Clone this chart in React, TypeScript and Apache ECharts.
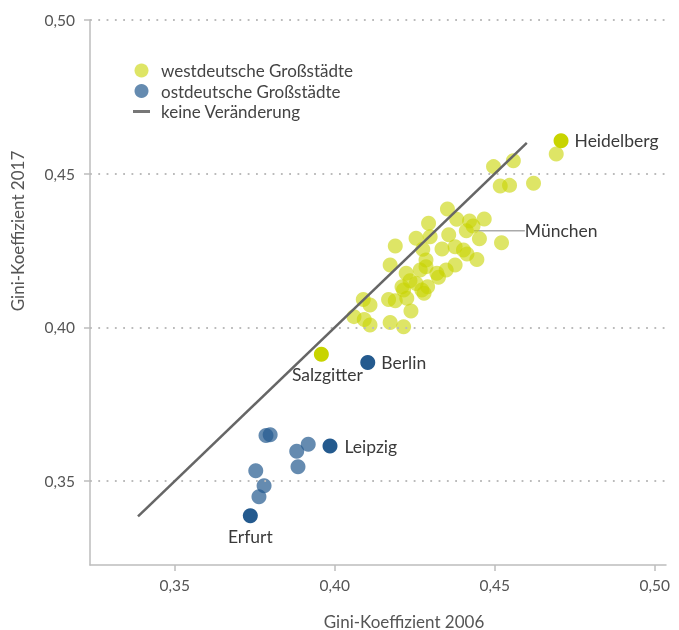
import React, { useEffect, useRef } from 'react';
import * as echarts from 'echarts';

// Gini-Koeffizient 2006 (x) und 2017 (y)
const westGini2006 = [
  0.4692, 0.4558, 0.4496, 0.4517, 0.4546, 0.4621, 0.4352, 0.4293, 0.4381, 0.4421,
  0.4432, 0.4467, 0.4189, 0.4254, 0.4298, 0.4356, 0.4452, 0.4521, 0.4335, 0.4376,
  0.4402, 0.4413, 0.4444, 0.4275, 0.4173, 0.4285, 0.4285, 0.4376, 0.4223, 0.4267,
  0.4319, 0.4324, 0.4348, 0.4235, 0.4254, 0.4210, 0.4215, 0.4272, 0.4290, 0.4279,
  0.4225, 0.4168, 0.4189, 0.4089, 0.4110, 0.4238, 0.4060, 0.4092, 0.4110, 0.4173,
  0.4215,
];
const westGini2017 = [
  0.4564, 0.4542, 0.4523, 0.4460, 0.4462, 0.4469, 0.4385, 0.4339, 0.4352, 0.4346,
  0.4330, 0.4353, 0.4265, 0.4290, 0.4295, 0.4301, 0.4288, 0.4275, 0.4255, 0.4262,
  0.4252, 0.4239, 0.4221, 0.4254, 0.4203, 0.4219, 0.4197, 0.4203, 0.4176, 0.4187,
  0.4176, 0.4163, 0.4187, 0.4152, 0.4143, 0.4132, 0.4122, 0.4122, 0.4132, 0.4111,
  0.4095, 0.4091, 0.4087, 0.4091, 0.4073, 0.4053, 0.4035, 0.4026, 0.4008, 0.4016,
  0.4002,
];
const eastGini2006 = [0.3785, 0.3798, 0.3881, 0.3917, 0.3885, 0.3753, 0.3779, 0.3763];
const eastGini2017 = [0.3648, 0.3651, 0.3597, 0.3620, 0.3547, 0.3534, 0.3485, 0.3449];

// beschriftete Städte
const labeledCities = ['Heidelberg', 'Salzgitter', 'München', 'Berlin', 'Leipzig', 'Erfurt'];
const labeledRegion = ['west', 'west', 'west', 'east', 'east', 'east'];
const labeledGini2006 = [0.4707, 0.3958, 0.4411, 0.4103, 0.3985, 0.3736];
const labeledGini2017 = [0.4607, 0.3913, 0.4314, 0.3886, 0.3614, 0.3387];

// Diagonale "keine Veränderung"
const diagonalRange = [0.3385, 0.46];

// Achsen
const tickValues = [0.35, 0.4, 0.45, 0.5];
const xExtent = [0.3235, 0.5035];
const yExtent = [0.3227, 0.5];

const WEST = 'westdeutsche Großstädte';
const EAST = 'ostdeutsche Großstädte';
const LINE = 'keine Veränderung';

const FONT = 'Lato';
const fmt = (v: number) => v.toFixed(2).replace('.', ',');

export default function App() {
  const ref = useRef<HTMLDivElement>(null);
  useEffect(() => {
    if (!ref.current) return;
    const chart = echarts.init(ref.current, undefined, { renderer: 'svg' });

    const westLight = 'rgba(200,212,0,0.6)';
    const eastLight = 'rgba(36,90,142,0.7)';
    const westDark = '#c8d400';
    const eastDark = '#245a8e';

    const labelPos: Record<string, any> = {
      Heidelberg: { position: 'right', distance: 6 },
      Salzgitter: { position: 'bottom', distance: 4, offset: [6, 0] },
      Berlin: { position: 'right', distance: 6 },
      Leipzig: { position: 'right', distance: 7 },
      Erfurt: { position: 'bottom', distance: 4 },
    };

    const highlighted = (region: string) =>
      labeledCities
        .map((name, i) => ({ name, i }))
        .filter((d) => labeledRegion[d.i] === region && d.name !== 'München')
        .map((d) => ({
          name: d.name,
          value: [labeledGini2006[d.i], labeledGini2017[d.i]],
          label: { show: true, formatter: '{b}', ...labelPos[d.name] },
        }));

    const mi = labeledCities.indexOf('München');

    const labelStyle = { fontFamily: FONT, fontSize: 17.5, color: '#3a3a3a' };

    const option: any = {
      animation: false,
      textStyle: { fontFamily: FONT },
      grid: { left: 90, right: 13, top: 20, bottom: 65 },
      legend: {
        orient: 'vertical',
        left: 133,
        top: 62,
        padding: 0,
        itemWidth: 17,
        itemHeight: 14,
        itemGap: 3.5,
        textStyle: { fontFamily: FONT, fontSize: 17, color: '#444', padding: [0, 0, 0, 6] },
        data: [
          { name: WEST },
          { name: EAST },
          { name: LINE, icon: 'path://M0,0 L17,0 L17,3 L0,3 Z', itemStyle: { color: '#777' } },
        ],
        selectedMode: false,
      },
      xAxis: {
        type: 'value',
        min: xExtent[0],
        max: xExtent[1],
        axisLine: { show: true, lineStyle: { color: '#bdbdbd', width: 1.5 } },
        axisTick: { show: true, length: 6, lineStyle: { color: '#bdbdbd', width: 1.5 }, customValues: tickValues },
        axisLabel: { customValues: tickValues, formatter: fmt, fontFamily: FONT, fontSize: 15.5, color: '#555', margin: 12 },
        splitLine: { show: false },
      },
      yAxis: {
        type: 'value',
        min: yExtent[0],
        max: yExtent[1],
        axisLine: { show: true, lineStyle: { color: '#bdbdbd', width: 1.5 } },
        axisTick: { show: true, length: 6, lineStyle: { color: '#bdbdbd', width: 1.5 }, customValues: tickValues },
        axisLabel: { customValues: tickValues, formatter: fmt, fontFamily: FONT, fontSize: 15.5, color: '#555', margin: 15 },
        splitLine: { show: false },
      },
      graphic: [
        {
          type: 'text',
          x: 404,
          y: 621,
          style: { text: 'Gini-Koeffizient 2006', fontFamily: FONT, fontSize: 17, fill: '#555', align: 'center', verticalAlign: 'middle' },
        },
        {
          type: 'text',
          x: 17,
          y: 231,
          rotation: Math.PI / 2,
          style: { text: 'Gini-Koeffizient 2017', fontFamily: FONT, fontSize: 17, fill: '#555', align: 'center', verticalAlign: 'middle' },
        },
      ],
      series: [
        {
          name: 'grid',
          type: 'line',
          data: [],
          silent: true,
          markLine: {
            silent: true,
            symbol: 'none',
            label: { show: false },
            lineStyle: { color: '#bbb', width: 1.8, type: [1.8, 6.5] },
            data: tickValues.map((v) => ({ yAxis: v })),
          },
        },
        {
          name: WEST,
          type: 'scatter',
          symbolSize: 15,
          itemStyle: { color: westLight, opacity: 1 },
          data: westGini2006.map((x, i) => [x, westGini2017[i]]),
        },
        {
          name: EAST,
          type: 'scatter',
          symbolSize: 15,
          itemStyle: { color: eastLight, opacity: 1 },
          data: eastGini2006.map((x, i) => [x, eastGini2017[i]]),
        },
        {
          name: WEST,
          type: 'scatter',
          symbolSize: 15,
          itemStyle: { color: westLight, opacity: 1 },
          label: {
            show: true,
            formatter: '{b}',
            position: 'right',
            distance: 5,
            padding: [0, 0, 0, 8],
            ...labelStyle,
          },
          labelLayout: { dx: 38 },
          labelLine: { show: true, lineStyle: { color: '#aaa', width: 1.5 } },
          data: [{ name: 'München', value: [labeledGini2006[mi], labeledGini2017[mi]] }],
        },
        {
          name: WEST,
          type: 'scatter',
          symbolSize: 15,
          itemStyle: { color: westDark, opacity: 1 },
          label: labelStyle,
          data: highlighted('west'),
        },
        {
          name: EAST,
          type: 'scatter',
          symbolSize: 15,
          itemStyle: { color: eastDark, opacity: 1 },
          label: labelStyle,
          data: highlighted('east'),
        },
        {
          name: LINE,
          type: 'line',
          symbol: 'none',
          z: 5,
          itemStyle: { color: '#666' },
          lineStyle: { color: '#666', width: 2.5 },
          data: diagonalRange.map((v) => [v, v]),
        },
      ],
    };

    chart.setOption(option);
    return () => chart.dispose();
  }, []);

  return <div ref={ref} style={{ position: 'fixed', left: 0, top: 0, width: 679, height: 630 }} />;
}
